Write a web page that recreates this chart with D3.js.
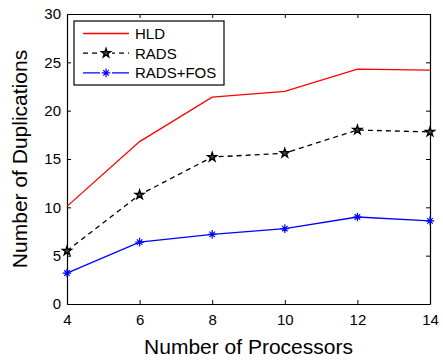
<!DOCTYPE html>
<html>
<head>
<meta charset="utf-8">
<script src="https://d3js.org/d3.v7.min.js"></script>
<style>
  body { margin: 0; background: #fff; }
  text { font-family: "Liberation Sans", Arial, sans-serif; fill: #000; }
</style>
</head>
<body>
<svg width="443" height="361"></svg>
<script>
var width = 443;
var height = 361;

var processors = [4, 6, 8, 10, 12, 14];
var hld = [10.1, 16.8, 21.4, 22.0, 24.3, 24.2];
var rads = [5.5, 11.3, 15.2, 15.6, 18.0, 17.8];
var radsFos = [3.2, 6.4, 7.2, 7.8, 9.0, 8.6];
var xTicks = [4, 6, 8, 10, 12, 14];
var yTicks = [0, 5, 10, 15, 20, 25, 30];

var series = [
  { name: "HLD", values: hld, color: "#ff0000", dash: null, marker: null },
  { name: "RADS", values: rads, color: "#000000", dash: "5,4", marker: "star" },
  { name: "RADS+FOS", values: radsFos, color: "#0000ff", dash: null, marker: "asterisk" }
];

var plotLeft = 67, plotRight = 430, plotTop = 14, plotBottom = 304;

var xScale = d3.scaleLinear().domain([4, 14]).range([plotLeft, plotRight]);
var yScale = d3.scaleLinear().domain([0, 30]).range([plotBottom, plotTop]);

var svg = d3.select("svg");

// Axes (MATLAB style: ticks inward, box on all sides)
svg.append("g")
    .attr("transform", `translate(0, ${plotBottom})`)
    .call(d3.axisBottom(xScale).tickValues(xTicks).tickSize(-4).tickSizeOuter(0).tickPadding(10))
    .call(g => g.selectAll("text").style("font-size", "15px"));

svg.append("g")
    .attr("transform", `translate(${plotLeft}, 0)`)
    .call(d3.axisLeft(yScale).tickValues(yTicks).tickSize(-4).tickSizeOuter(0).tickPadding(6))
    .call(g => g.selectAll("text").style("font-size", "15px"));

svg.append("g")
    .attr("transform", `translate(0, ${plotTop})`)
    .call(d3.axisTop(xScale).tickValues(xTicks).tickSize(-4).tickSizeOuter(0).tickFormat(""));

svg.append("g")
    .attr("transform", `translate(${plotRight}, 0)`)
    .call(d3.axisRight(yScale).tickValues(yTicks).tickSize(-4).tickSizeOuter(0).tickFormat(""));

svg.selectAll(".domain").attr("stroke", "#000").attr("stroke-width", 1.2);
svg.selectAll(".tick line").attr("stroke", "#000");

// Axis labels
svg.append("text")
    .attr("x", (plotLeft + plotRight) / 2)
    .attr("y", 354)
    .style("text-anchor", "middle")
    .style("font-size", "21px")
    .text("Number of Processors");

svg.append("text")
    .attr("transform", "rotate(-90)")
    .attr("x", -(plotTop + plotBottom) / 2)
    .attr("y", 27)
    .style("text-anchor", "middle")
    .style("font-size", "21px")
    .text("Number of Duplications");

var line = d3.line()
    .x((d, i) => xScale(processors[i]))
    .y(d => yScale(d));

var starPath = d3.symbol().type(d3.symbolStar).size(26)();
var asteriskPath = d3.symbol().type(d3.symbolPlus).size(26)() + d3.symbol().type(d3.symbolTimes).size(22)();

function drawMarker(g, s) {
  if (s.marker === "star") {
    g.append("path").attr("d", starPath)
      .attr("fill", "#444").attr("stroke", s.color).attr("stroke-width", 1.3);
  } else if (s.marker === "asterisk") {
    g.append("path").attr("d", asteriskPath)
      .attr("fill", "none").attr("stroke", s.color).attr("stroke-width", 1.2);
  }
}

// Data lines
series.forEach(function (s) {
  svg.append("path")
      .datum(s.values)
      .attr("d", line)
      .attr("fill", "none")
      .attr("stroke", s.color)
      .attr("stroke-width", 1.3)
      .attr("stroke-dasharray", s.dash);

  if (s.marker) {
    svg.selectAll(null)
      .data(s.values)
      .enter()
      .append("g")
        .attr("transform", (d, i) => `translate(${xScale(processors[i])}, ${yScale(d)})`)
        .each(function () { drawMarker(d3.select(this), s); });
  }
});

// Legend
var legend = svg.append("g");
legend.append("rect")
    .attr("x", 74).attr("y", 21)
    .attr("width", 150).attr("height", 64)
    .attr("fill", "#fff")
    .attr("stroke", "#000")
    .attr("stroke-width", 1.2);

series.forEach(function (s, i) {
  var y = 33.5 + i * 19.7;
  legend.append("line")
      .attr("x1", 83).attr("x2", 129)
      .attr("y1", y).attr("y2", y)
      .attr("stroke", s.color)
      .attr("stroke-width", 1.3)
      .attr("stroke-dasharray", s.dash);
  if (s.marker) {
    var g = legend.append("g").attr("transform", `translate(106, ${y})`);
    g.append("rect").attr("x", -6).attr("y", -6).attr("width", 12).attr("height", 12)
      .attr("fill", "#fff");
    drawMarker(g, s);
  }
  legend.append("text")
      .attr("x", 135)
      .attr("y", y + 5.5)
      .style("font-size", "15px")
      .text(s.name);
});
</script>
</body>
</html>
